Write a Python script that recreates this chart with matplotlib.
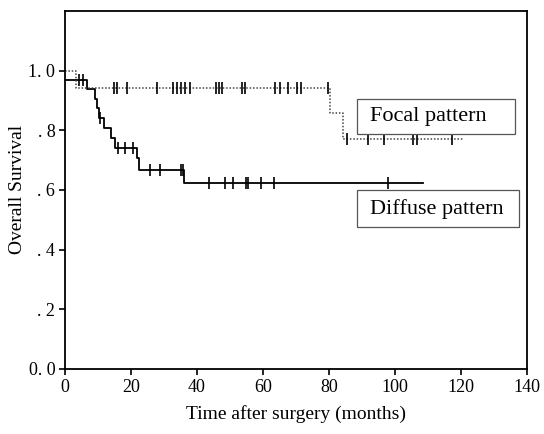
import numpy as np
import matplotlib
matplotlib.use("Agg")
import matplotlib.pyplot as plt
from matplotlib.patches import Rectangle

# Diffuse pattern (solid)
diffuse_times = [0, 6.7, 9.0, 9.6, 10.3, 11.7, 14.0, 15.2, 21.7, 22.4, 35.9, 108.5]
diffuse_surv = [0.969, 0.937, 0.906, 0.874, 0.840, 0.806, 0.773, 0.742, 0.707, 0.668, 0.623, 0.623]
diffuse_censor = [4.3, 5.4, 10.7, 16.0, 18.2, 20.7, 25.8, 28.7, 35.0, 35.8, 43.5, 48.6,
                  50.8, 54.8, 55.5, 59.4, 63.4, 98.0]

# Focal pattern (dotted)
focal_times = [0, 3.3, 80.3, 84.3, 121.0]
focal_surv = [1.0, 0.943, 0.858, 0.769, 0.769]
focal_censor = [14.7, 15.8, 18.7, 27.8, 32.8, 33.8, 35.0, 36.4, 37.9, 45.7, 46.5, 47.7,
                53.5, 54.5, 63.6, 65.2, 67.7, 70.4, 71.4, 79.8, 85.4, 91.7, 96.5,
                105.5, 106.6, 117.2]

xticks = [0, 20, 40, 60, 80, 100, 120, 140]
yticks = [0.0, 0.2, 0.4, 0.6, 0.8, 1.0]
ytick_labels = ["0. 0", ". 2", ". 4", ". 6", ". 8", "1. 0"]

plt.rcParams['font.family'] = ['Liberation Serif', 'DejaVu Serif']

fig = plt.figure(figsize=(5.44, 4.34), dpi=100)
ax = fig.add_axes([0.1195, 0.150, 0.8495, 0.825])


def step_value(times, surv, t):
    idx = np.searchsorted(np.array(times), t, side='right') - 1
    return np.array(surv)[idx]


# Diffuse
ax.step(diffuse_times, diffuse_surv, where='post', color='black', lw=1.3)
ax.plot(diffuse_censor, step_value(diffuse_times, diffuse_surv, diffuse_censor),
        ls='none', marker='|', ms=8, mew=1.2, color='black')

# Focal
ax.step(focal_times, focal_surv, where='post', color='#444444', lw=1.1, ls=(0, (1, 1.2)))
ax.plot(focal_censor, step_value(focal_times, focal_surv, focal_censor),
        ls='none', marker='|', ms=8, mew=1.2, color='black')

ax.set_xlim(0, 140)
ax.set_ylim(0, 1.2)
ax.set_xticks(xticks)
ax.set_xticklabels([str(v) for v in xticks])
ax.set_yticks(yticks)
ax.set_yticklabels(ytick_labels)
ax.tick_params(direction='out', length=4, width=1.2, labelsize=13, colors='black', pad=3)
for s in ax.spines.values():
    s.set_linewidth(1.3)

ax.set_xlabel("Time after surgery (months)", fontsize=14, labelpad=7)
ax.set_ylabel("Overall Survival", fontsize=14, labelpad=2)

# label boxes
ax.add_patch(Rectangle((88.5, 0.786), 47.9, 0.120, fc='white', ec='#555555', lw=0.9, zorder=3))
ax.text(92.4, 0.846, "Focal pattern", fontsize=16, ha='left', va='center', zorder=4)
ax.add_patch(Rectangle((88.5, 0.475), 49.1, 0.124, fc='white', ec='#555555', lw=0.9, zorder=3))
ax.text(92.4, 0.537, "Diffuse pattern", fontsize=16, ha='left', va='center', zorder=4)

fig.savefig("out.png", dpi=100)
